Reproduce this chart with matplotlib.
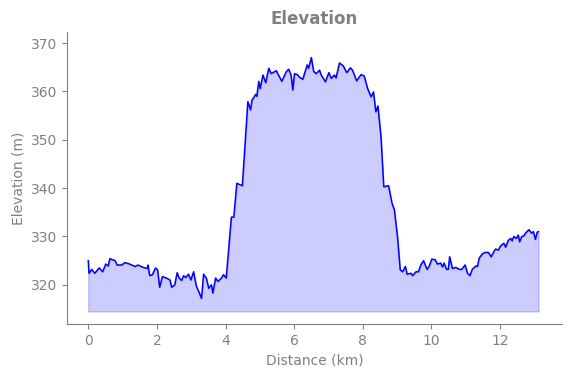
import matplotlib.pyplot as plt
import numpy as np

# distance (km) and elevation (m)
distance = [0.00, 0.02, 0.10, 0.19, 0.32, 0.42, 0.51, 0.58, 0.63, 0.78, 0.84, 0.97,
            1.07, 1.21, 1.36, 1.45, 1.60, 1.72, 1.74, 1.79, 1.87, 1.96, 2.02, 2.08,
            2.16, 2.28, 2.38, 2.43, 2.52, 2.59, 2.65, 2.72, 2.78, 2.84, 2.92, 2.99,
            3.07, 3.15, 3.22, 3.30, 3.36, 3.44, 3.51, 3.59, 3.63, 3.71, 3.78, 3.88,
            3.94, 4.02, 4.17, 4.24, 4.33, 4.49, 4.65, 4.73, 4.77, 4.88, 4.91, 4.97,
            5.01, 5.09, 5.17, 5.26, 5.33, 5.48, 5.52, 5.64, 5.77, 5.84, 5.91, 5.96,
            6.01, 6.09, 6.15, 6.25, 6.38, 6.42, 6.50, 6.57, 6.64, 6.74, 6.78, 6.91,
            7.01, 7.08, 7.17, 7.22, 7.32, 7.43, 7.53, 7.64, 7.70, 7.82, 7.95, 8.04,
            8.14, 8.24, 8.31, 8.38, 8.44, 8.53, 8.61, 8.75, 8.85, 8.92, 9.01, 9.09,
            9.16, 9.24, 9.29, 9.40, 9.45, 9.55, 9.62, 9.69, 9.77, 9.87, 9.93, 10.01,
            10.11, 10.17, 10.27, 10.32, 10.37, 10.44, 10.49, 10.53, 10.61, 10.71, 10.81, 10.88,
            10.98, 11.05, 11.12, 11.19, 11.29, 11.34, 11.39, 11.48, 11.56, 11.66, 11.74, 11.82,
            11.87, 11.95, 12.02, 12.11, 12.16, 12.24, 12.31, 12.35, 12.40, 12.47, 12.53, 12.57,
            12.63, 12.69, 12.74, 12.84, 12.92, 12.97, 13.03, 13.08, 13.12]
elevation = [325.0, 322.4, 323.2, 322.4, 323.5, 322.7, 324.3, 323.9, 325.4, 325.0, 324.1, 324.1,
             324.6, 324.3, 323.8, 324.1, 323.6, 323.4, 324.1, 321.9, 322.1, 323.5, 323.1, 319.5,
             321.7, 321.4, 321.0, 319.5, 320.0, 322.5, 321.4, 320.9, 321.9, 321.5, 322.2, 321.0,
             322.7, 319.7, 318.6, 317.2, 322.2, 321.4, 319.3, 320.0, 318.3, 321.4, 320.7, 321.4,
             322.1, 321.4, 334.0, 334.0, 341.0, 340.5, 357.9, 356.2, 358.2, 359.4, 359.0, 362.1,
             360.6, 363.4, 361.8, 364.8, 363.7, 364.3, 363.7, 362.1, 364.1, 364.6, 363.4, 360.3,
             363.7, 363.5, 363.0, 362.5, 365.5, 364.8, 367.0, 364.1, 363.7, 364.4, 363.5, 362.0,
             363.9, 362.7, 363.4, 362.8, 365.9, 365.3, 363.9, 364.9, 364.4, 362.2, 363.5, 363.2,
             360.6, 358.9, 359.9, 355.8, 357.0, 350.6, 340.3, 340.5, 336.9, 335.5, 330.0, 323.1,
             322.7, 323.8, 322.2, 322.4, 321.9, 322.7, 322.7, 324.1, 325.0, 323.2, 323.8, 325.3,
             325.2, 324.3, 324.5, 323.7, 324.5, 323.2, 323.2, 325.8, 323.4, 323.6, 323.2, 323.2,
             324.1, 322.4, 321.9, 323.2, 323.9, 323.8, 325.5, 326.4, 326.7, 326.7, 325.8, 326.9,
             327.4, 327.2, 328.1, 328.6, 327.8, 329.2, 329.6, 329.1, 330.0, 329.6, 330.3, 328.9,
             330.0, 330.1, 330.7, 331.4, 330.7, 331.0, 329.4, 330.9, 331.0]
baseline = 314.5

grey = "grey"

fig = plt.figure(figsize=(5.71, 3.78), dpi=100)
ax = fig.add_axes([0.1173, 0.1429, 0.8667, 0.7724])

ax.plot(distance, elevation, color="blue", linewidth=1.1)
ax.fill_between(distance, elevation, baseline, color="blue", alpha=0.2)

ax.set_xlim(-0.62, 13.8)
ax.set_ylim(311.9, 372.3)
ax.set_xticks([0, 2, 4, 6, 8, 10, 12])
ax.set_yticks([320, 330, 340, 350, 360, 370])

ax.set_title("Elevation", color=grey, fontweight="bold", fontsize=12)
ax.set_xlabel("Distance (km)", color=grey)
ax.set_ylabel("Elevation (m)", color=grey)

ax.spines["top"].set_visible(False)
ax.spines["right"].set_visible(False)
ax.spines["left"].set_color(grey)
ax.spines["bottom"].set_color(grey)
ax.tick_params(colors=grey)

fig.savefig("out.png", dpi=100)
